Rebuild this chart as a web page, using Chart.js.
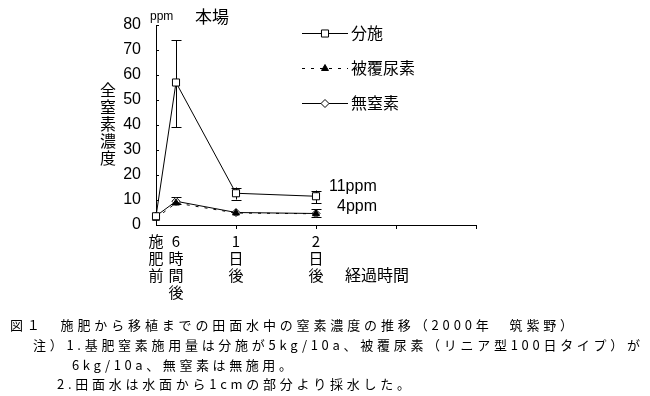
<!DOCTYPE html>
<html>
<head>
<meta charset="utf-8">
<script src="https://cdn.jsdelivr.net/npm/chart.js@4/dist/chart.umd.min.js"></script>
<style>
  html, body { margin: 0; padding: 0; background: #fff; }
  #wrap { width: 650px; height: 396px; }
</style>
</head>
<body>
<div id="wrap"><canvas id="chart" width="650" height="396"></canvas></div>
<script>
// data (hours after fertilising, ppm)
const hours = [0, 6, 24, 48];
const bunseValues = [3.5, 57, 12.7, 11.5];
const bunseErrLow = [null, 39, 10.2, 8.7];
const bunseErrHigh = [null, 74, 15, 13.8];
const hifukuValues = [2.7, 8.8, 4.8, 4.5];
const hifukuErrLow = [null, null, null, 3.2];
const hifukuErrHigh = [null, null, null, 6.3];
const muValues = [3.6, 9.5, 5, 4.6];
const muErrLow = [null, 8.4, null, null];
const muErrHigh = [null, 11.2, null, null];
const seriesNames = ['分施', '被覆尿素', '無窒素'];

const xTickHours = [0, 6, 24, 48, 72, 96];
const xTickLabels = [['施', '肥', '前'], ['6', '時', '間', '後'], ['1', '日', '後'], ['2', '日', '後'], '', ''];
const yMin = 0, yMax = 80, yStep = 10;

const captionLines = [
  '図１　施肥から移植までの田面水中の窒素濃度の推移（2000年　筑紫野）',
  '注）1.基肥窒素施用量は分施が5kg/10a、被覆尿素（リニア型100日タイプ）が',
  '6kg/10a、無窒素は無施用。',
  '2.田面水は水面から1cmの部分より採水した。'
];

const JP = '"Noto Sans CJK JP", "Noto Sans", sans-serif';
const LAT = '"Liberation Sans", Arial, sans-serif';

const toPoints = vals => hours.map((h, i) => ({ x: h, y: vals[i] }));

const errorSets = [
  [bunseErrLow, bunseErrHigh],
  [hifukuErrLow, hifukuErrHigh],
  [muErrLow, muErrHigh]
];

function drawMarker(ctx, style, radius, x, y, fill) {
  ctx.save();
  ctx.fillStyle = fill;
  ctx.strokeStyle = '#000';
  ctx.lineWidth = 1;
  ctx.setLineDash([]);
  Chart.helpers.drawPoint(ctx, { pointStyle: style, radius: radius, rotation: 0, borderWidth: 1 }, x, y);
  ctx.restore();
}

const extrasPlugin = {
  id: 'extras',
  beforeDatasetsDraw(chart) {
    const ctx = chart.ctx;
    const xs = chart.scales.x, ys = chart.scales.y;
    ctx.save();
    ctx.strokeStyle = '#000';
    ctx.lineWidth = 1;
    errorSets.forEach(([lo, hi]) => {
      hours.forEach((h, i) => {
        if (lo[i] == null) return;
        const x = Math.round(xs.getPixelForValue(h)) + 0.5;
        const y1 = ys.getPixelForValue(lo[i]);
        const y2 = ys.getPixelForValue(hi[i]);
        ctx.beginPath();
        ctx.moveTo(x, y1); ctx.lineTo(x, y2);
        ctx.moveTo(x - 5, Math.round(y1) + 0.5); ctx.lineTo(x + 5, Math.round(y1) + 0.5);
        ctx.moveTo(x - 5, Math.round(y2) + 0.5); ctx.lineTo(x + 5, Math.round(y2) + 0.5);
        ctx.stroke();
      });
    });
    ctx.restore();
  },
  afterDraw(chart) {
    const ctx = chart.ctx;
    const ys = chart.scales.y;
    const left = chart.chartArea.left;
    ctx.save();

    // inner y ticks
    ctx.strokeStyle = '#000';
    ctx.lineWidth = 1;
    ctx.beginPath();
    for (let v = yMin; v <= yMax; v += yStep) {
      const y = Math.round(ys.getPixelForValue(v)) + 0.5;
      ctx.moveTo(left, y); ctx.lineTo(left + 3, y);
    }
    ctx.stroke();

    // legend
    const legendY = [33, 68, 103];
    chart.data.datasets.forEach((ds, i) => {
      const y = legendY[i] + 0.5;
      ctx.save();
      ctx.strokeStyle = '#000';
      ctx.lineWidth = 1;
      ctx.setLineDash(ds.borderDash || []);
      ctx.beginPath();
      ctx.moveTo(302, y); ctx.lineTo(348, y);
      ctx.stroke();
      ctx.restore();
      drawMarker(ctx, ds.pointStyle, ds.pointRadius, 325, y, ds.pointBackgroundColor);
      ctx.fillStyle = '#000';
      ctx.font = '16px ' + JP;
      ctx.textAlign = 'left';
      ctx.textBaseline = 'middle';
      ctx.fillText(ds.label, 351, legendY[i]);
    });

    // labels inside the plot
    ctx.fillStyle = '#000';
    ctx.textBaseline = 'middle';
    ctx.textAlign = 'left';
    ctx.font = '12px ' + LAT;
    ctx.fillText('ppm', 150, 17);
    ctx.font = '17px ' + JP;
    ctx.fillText('本場', 195, 17);
    ctx.font = '16px ' + LAT;
    ctx.fillText('11ppm', 329, 187);
    ctx.fillText('4ppm', 337, 207);
    ctx.font = '16px ' + JP;
    ctx.fillText('経過時間', 345, 275);

    // vertical y-axis title
    ctx.textAlign = 'center';
    ctx.font = '16px ' + JP;
    ['全', '窒', '素', '濃', '度'].forEach((ch, i) => ctx.fillText(ch, 108, 90 + i * 17));

    // caption
    const cap = [
      { x: 10, right: 573, y: 325 },
      { x: 33, right: 640, y: 345 },
      { x: 72, right: 292, y: 365 },
      { x: 57, right: 410, y: 384 }
    ];
    ctx.textAlign = 'left';
    ctx.font = '13px ' + JP;
    captionLines.forEach((t, i) => {
      const c = cap[i];
      ctx.letterSpacing = '0px';
      const w = ctx.measureText(t).width;
      const n = [...t].length;
      const ls = (c.right - c.x - w) / (n - 1);
      ctx.letterSpacing = ls.toFixed(2) + 'px';
      ctx.fillText(t, c.x, c.y);
    });
    ctx.letterSpacing = '0px';
    ctx.restore();
  }
};

const ctx = document.getElementById('chart').getContext('2d');
new Chart(ctx, {
  type: 'line',
  data: {
    datasets: [
      {
        label: seriesNames[0],
        data: toPoints(bunseValues),
        clip: false,
        borderColor: '#000',
        borderWidth: 1,
        pointStyle: 'rect',
        pointRadius: 5,
        pointBackgroundColor: '#fff',
        pointBorderColor: '#000',
        pointBorderWidth: 1
      },
      {
        label: seriesNames[1],
        data: toPoints(hifukuValues),
        clip: false,
        borderColor: '#000',
        borderWidth: 1,
        borderDash: [3, 6],
        pointStyle: 'triangle',
        pointRadius: 4,
        pointBackgroundColor: '#000',
        pointBorderColor: '#000',
        pointBorderWidth: 1
      },
      {
        label: seriesNames[2],
        data: toPoints(muValues),
        clip: false,
        borderColor: '#000',
        borderWidth: 1,
        pointStyle: 'rectRot',
        pointRadius: 4,
        pointBackgroundColor: '#fff',
        pointBorderColor: '#000',
        pointBorderWidth: 1
      }
    ]
  },
  options: {
    responsive: false,
    animation: false,
    layout: { padding: { left: 0, right: 174, top: 25, bottom: 96 } },
    plugins: {
      legend: { display: false },
      tooltip: { enabled: false }
    },
    elements: { line: { tension: 0 } },
    scales: {
      x: {
        type: 'linear',
        min: 0,
        max: 96,
        afterBuildTicks: scale => { scale.ticks = xTickHours.map(v => ({ value: v })); },
        afterFit: scale => { scale.height = 75; },
        border: { display: true, color: '#000', width: 1 },
        grid: {
          drawOnChartArea: false,
          tickLength: 4,
          tickColor: c => (c.tick && c.tick.value >= 24) ? '#000' : 'rgba(0,0,0,0)'
        },
        ticks: {
          autoSkip: false,
          maxRotation: 0,
          padding: 4,
          color: '#000',
          font: { family: JP, size: 15, lineHeight: 1.13 },
          callback: value => {
            const i = xTickHours.indexOf(value);
            return i >= 0 ? xTickLabels[i] : '';
          }
        }
      },
      y: {
        min: yMin,
        max: yMax,
        afterFit: scale => { scale.width = 156; },
        border: { display: true, color: '#000', width: 1 },
        grid: { drawOnChartArea: false, drawTicks: false },
        ticks: {
          stepSize: yStep,
          padding: 15,
          color: '#000',
          font: { family: LAT, size: 16 }
        }
      }
    }
  },
  plugins: [extrasPlugin]
});
</script>
</body>
</html>
